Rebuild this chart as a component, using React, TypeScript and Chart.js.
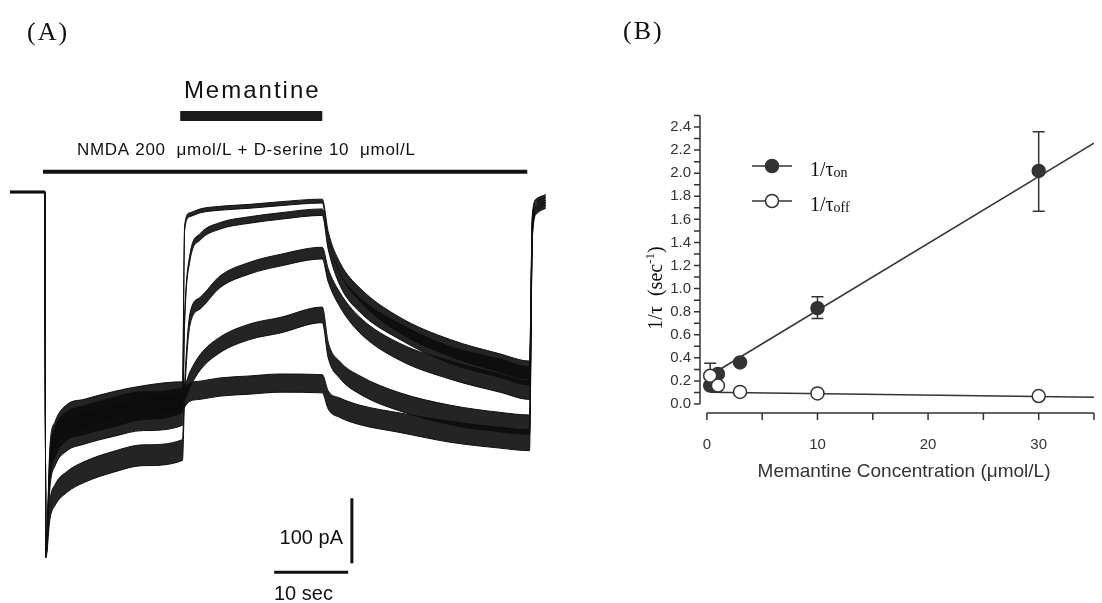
import { useEffect, useRef } from 'react';
import { Chart, registerables } from 'chart.js';

Chart.register(...registerables);

// ---------------- Panel A: whole-cell current traces ----------------
// time points (s) at which the traces were read off the figure
const TIME_S = [0, 4.7, 4.85, 5.4, 6.1, 7.7, 10.0, 14.0, 18.0, 23.3, 23.6, 24.3, 25.7, 28.4, 32.4, 36.5, 42.2, 43.0, 44.6, 47.3, 52.7, 59.5, 66.2, 70.2, 70.6, 71.2, 72.4];

// mean current (pA) and noise half-amplitude (pA) of each trace, labelled by memantine concentration
const TRACE_NAMES = ['30 μmol/L', '10 μmol/L', '3 μmol/L', '1 μmol/L', '0.3 μmol/L'];
const T30_PA = [0, 0, -560, -415, -378, -354, -345, -332, -323, -317, -55, -35, -29, -25, -22, -18, -14, -66, -117, -158, -205, -240, -263, -274, -35, -12, -6];
const T30_NOISE = [1, 1, 2, 14, 16, 16, 16, 16, 16, 16, 4, 3, 3, 3, 3, 3, 3, 5, 8, 10, 12, 13, 14, 14, 2, 2, 2];
const T10_PA = [0, 0, -560, -440, -405, -382, -372, -360, -351, -343, -197, -102, -69, -52, -43, -37, -31, -82, -135, -174, -215, -251, -271, -283, -43, -17, -11];
const T10_NOISE = [1, 1, 2, 14, 16, 16, 16, 16, 16, 16, 6, 5, 5, 5, 5, 5, 5, 6, 9, 11, 12, 13, 14, 14, 2, 2, 2];
const T3_PA = [0, 0, -560, -489, -466, -446, -431, -415, -405, -397, -305, -197, -171, -138, -117, -105, -94, -128, -166, -205, -246, -274, -294, -305, -51, -22, -15];
const T3_NOISE = [1, 1, 2, 14, 16, 16, 16, 16, 16, 16, 10, 9, 9, 9, 9, 9, 9, 10, 11, 12, 13, 14, 14, 14, 2, 2, 2];
const T1_PA = [0, 0, -560, -405, -369, -343, -335, -323, -314, -308, -308, -289, -262, -235, -215, -205, -189, -243, -274, -297, -323, -343, -354, -358, -58, -26, -18];
const T1_NOISE = [1, 1, 2, 14, 16, 16, 16, 16, 16, 16, 12, 12, 12, 12, 12, 12, 12, 12, 13, 14, 14, 15, 15, 15, 2, 2, 2];
const T03_PA = [0, 0, -560, -428, -391, -366, -357, -345, -334, -323, -317, -308, -305, -300, -297, -294, -295, -320, -332, -343, -355, -369, -378, -382, -66, -31, -23];
const T03_NOISE = [1, 1, 2, 14, 16, 16, 16, 16, 16, 16, 14, 14, 14, 14, 14, 14, 14, 14, 15, 15, 15, 16, 16, 16, 2, 2, 2];

// application bars (s) and scale bars
const NMDA_ON_S = 4.46;
const NMDA_OFF_S = 69.9;
const MEM_ON_S = 23.0;
const MEM_OFF_S = 42.2;
const SCALE_PA = 100;
const SCALE_S = 10;

// ---------------- Panel B: 1/tau vs concentration ----------------
const CONC = [0.3, 1, 3, 10, 30];
const ON_RATE = [0.16, 0.26, 0.36, 0.83, 2.02];
const ON_ERR_LO = [null, null, null, 0.74, 1.67];
const ON_ERR_HI = [null, null, null, 0.93, 2.36];
const OFF_RATE = [0.245, 0.16, 0.105, 0.092, 0.069];
const OFF_ERR_LO = [0.14, null, null, null, null];
const OFF_ERR_HI = [0.353, null, null, null, null];
const FIT_X = [0.3, 35];
const ON_FIT = [0.249, 2.26];
const OFF_FIT = [0.102, 0.058];
const Y_MAJOR = [0, 0.2, 0.4, 0.6, 0.8, 1.0, 1.2, 1.4, 1.6, 1.8, 2.0, 2.2, 2.4];
const Y_MINOR = [0.1, 0.3, 0.5, 0.7, 0.9, 1.1, 1.3, 1.5, 1.7, 1.9, 2.1, 2.3, 2.5];
const X_MAJOR = [0, 10, 20, 30];
const X_MINOR = [5, 15, 25, 35];

const INK = '#111';
const GREY = '#333';

function traceDatasets(name: string, mean: number[], noise: number[]) {
  const upper = TIME_S.map((t, i) => ({ x: t, y: mean[i] + noise[i] }));
  const lower = TIME_S.map((t, i) => ({ x: t, y: mean[i] - noise[i] }));
  return [
    {
      label: name + ' upper',
      data: upper,
      borderColor: INK,
      borderWidth: 1,
      backgroundColor: 'rgba(12,12,12,0.9)',
      fill: '+1',
      cubicInterpolationMode: 'monotone',
      pointRadius: 0,
    },
    {
      label: name + ' lower',
      data: lower,
      borderColor: INK,
      borderWidth: 1,
      fill: false,
      cubicInterpolationMode: 'monotone',
      pointRadius: 0,
    },
  ];
}

const panelAText = {
  id: 'panelAText',
  afterDraw(chart: any) {
    const { ctx } = chart;
    const x = chart.scales.x;
    ctx.save();
    ctx.fillStyle = INK;
    ctx.textBaseline = 'middle';
    ctx.textAlign = 'left';
    ctx.font = '26px "Liberation Serif"';
    ctx.letterSpacing = '2px';
    ctx.fillText('(A)', 27, 33);

    ctx.font = '24px "Liberation Sans"';
    ctx.letterSpacing = '2px';
    ctx.textAlign = 'center';
    const memMid = (x.getPixelForValue(MEM_ON_S) + x.getPixelForValue(MEM_OFF_S)) / 2;
    ctx.fillText('Memantine', memMid + 1, 91);

    ctx.letterSpacing = '0.7px';
    ctx.font = '17px "Liberation Sans"';
    ctx.textAlign = 'left';
    ctx.fillText('NMDA 200  μmol/L + D-serine 10  μmol/L', 77, 150);

    ctx.letterSpacing = '0px';
    ctx.font = '20px "Liberation Sans"';
    ctx.textAlign = 'right';
    ctx.fillText(SCALE_PA + ' pA', 343, 538);
    ctx.textAlign = 'left';
    ctx.fillText(SCALE_S + ' sec', 274, 594);
    ctx.restore();
  },
};

const panelBDecor = {
  id: 'panelBDecor',
  beforeDatasetsDraw(chart: any) {
    const { ctx, chartArea } = chart;
    const x = chart.scales.x;
    const y = chart.scales.y;
    ctx.save();
    ctx.strokeStyle = GREY;
    ctx.fillStyle = GREY;
    ctx.lineWidth = 1.5;

    // y axis
    const x0 = chartArea.left;
    ctx.beginPath();
    ctx.moveTo(x0, y.getPixelForValue(0));
    ctx.lineTo(x0, y.getPixelForValue(2.5));
    for (const v of [...Y_MAJOR, ...Y_MINOR]) {
      const py = y.getPixelForValue(v);
      ctx.moveTo(x0 - 6, py);
      ctx.lineTo(x0, py);
    }
    // x axis
    const yb = chartArea.bottom;
    ctx.moveTo(x.getPixelForValue(0), yb);
    ctx.lineTo(x.getPixelForValue(35), yb);
    for (const v of [...X_MAJOR, ...X_MINOR]) {
      const px = x.getPixelForValue(v);
      ctx.moveTo(px, yb);
      ctx.lineTo(px, yb + 7);
    }
    ctx.stroke();

    ctx.font = '15px "Liberation Sans"';
    ctx.textBaseline = 'middle';
    ctx.textAlign = 'right';
    for (const v of Y_MAJOR) ctx.fillText(v.toFixed(1), x0 - 9, y.getPixelForValue(v));
    ctx.textAlign = 'center';
    for (const v of X_MAJOR) ctx.fillText(String(v), x.getPixelForValue(v), yb + 32);
    ctx.font = '19px "Liberation Sans"';
    ctx.fillText('Memantine Concentration (μmol/L)', 344, 472);

    // y title
    ctx.save();
    ctx.translate(95, 288);
    ctx.rotate(-Math.PI / 2);
    ctx.fillStyle = INK;
    ctx.textBaseline = 'alphabetic';
    ctx.textAlign = 'left';
    const parts: [string, string, number][] = [
      ['1/τ  (sec', '20px "Liberation Serif"', 7],
      ['-1', '13px "Liberation Serif"', -1],
      [')', '20px "Liberation Serif"', 7],
    ];
    let total = 0;
    for (const [t, f] of parts) { ctx.font = f; total += ctx.measureText(t).width; }
    let cx = -total / 2;
    for (const [t, f, dy] of parts) { ctx.font = f; ctx.fillText(t, cx, dy); cx += ctx.measureText(t).width; }
    ctx.restore();

    // error bars
    ctx.strokeStyle = GREY;
    ctx.lineWidth = 1.5;
    const drawErr = (lo: (number | null)[], hi: (number | null)[]) => {
      CONC.forEach((c, i) => {
        const l = lo[i];
        const h = hi[i];
        if (l == null || h == null) return;
        const px = x.getPixelForValue(c);
        const pl = y.getPixelForValue(l);
        const ph = y.getPixelForValue(h);
        ctx.beginPath();
        ctx.moveTo(px, pl); ctx.lineTo(px, ph);
        ctx.moveTo(px - 6, pl); ctx.lineTo(px + 6, pl);
        ctx.moveTo(px - 6, ph); ctx.lineTo(px + 6, ph);
        ctx.stroke();
      });
    };
    drawErr(ON_ERR_LO, ON_ERR_HI);
    drawErr(OFF_ERR_LO, OFF_ERR_HI);
    ctx.restore();
  },
  afterDraw(chart: any) {
    const { ctx } = chart;
    ctx.save();
    // panel label
    ctx.fillStyle = INK;
    ctx.textBaseline = 'middle';
    ctx.textAlign = 'left';
    ctx.font = '26px "Liberation Serif"';
    ctx.letterSpacing = '2px';
    ctx.fillText('(B)', 63, 32);
    ctx.letterSpacing = '0px';

    // legend
    const rows: [number, boolean, string][] = [[166, true, 'on'], [201, false, 'off']];
    for (const [ly, filled, sub] of rows) {
      ctx.strokeStyle = GREY;
      ctx.lineWidth = 1.5;
      ctx.beginPath();
      ctx.moveTo(192, ly); ctx.lineTo(232, ly);
      ctx.stroke();
      ctx.beginPath();
      ctx.arc(212, ly, 6.5, 0, Math.PI * 2);
      ctx.fillStyle = filled ? GREY : '#fff';
      ctx.fill();
      ctx.stroke();
      ctx.fillStyle = INK;
      ctx.textBaseline = 'alphabetic';
      ctx.font = '20px "Liberation Serif"';
      ctx.fillText('1/τ', 250, ly + 10);
      const w = ctx.measureText('1/τ').width;
      ctx.font = '14px "Liberation Serif"';
      ctx.fillText(sub, 250 + w, ly + 11);
    }
    ctx.restore();
  },
};

export default function App() {
  const refA = useRef<HTMLCanvasElement>(null);
  const refB = useRef<HTMLCanvasElement>(null);

  useEffect(() => {
    const datasetsA: any[] = [
      ...traceDatasets(TRACE_NAMES[0], T30_PA, T30_NOISE),
      ...traceDatasets(TRACE_NAMES[1], T10_PA, T10_NOISE),
      ...traceDatasets(TRACE_NAMES[2], T3_PA, T3_NOISE),
      ...traceDatasets(TRACE_NAMES[3], T1_PA, T1_NOISE),
      ...traceDatasets(TRACE_NAMES[4], T03_PA, T03_NOISE),
      {
        label: 'NMDA + D-serine',
        data: [{ x: NMDA_ON_S, y: 31 }, { x: NMDA_OFF_S, y: 31 }],
        borderColor: INK, borderWidth: 4, pointRadius: 0, fill: false,
      },
      {
        label: 'Memantine',
        data: [{ x: MEM_ON_S, y: 117 }, { x: MEM_OFF_S, y: 117 }],
        borderColor: '#1a1a1a', borderWidth: 10, pointRadius: 0, fill: false,
      },
      {
        label: 'scale pA',
        data: [{ x: 46.2, y: -471 }, { x: 46.2, y: -471 - SCALE_PA }],
        borderColor: INK, borderWidth: 3, pointRadius: 0, fill: false,
      },
      {
        label: 'scale s',
        data: [{ x: 35.7, y: -585 }, { x: 35.7 + SCALE_S, y: -585 }],
        borderColor: INK, borderWidth: 3, pointRadius: 0, fill: false,
      },
    ];

    const chartA = new Chart(refA.current as HTMLCanvasElement, {
      type: 'line',
      data: { datasets: datasetsA },
      options: {
        animation: false,
        responsive: false,
        devicePixelRatio: 1,
        events: [],
        layout: { padding: { left: 10, right: 9.8, top: 0, bottom: 21 } },
        scales: {
          x: { type: 'linear', min: 0, max: 73, display: false },
          y: { type: 'linear', min: -600, max: 295.4, display: false },
        },
        plugins: { legend: { display: false }, tooltip: { enabled: false } },
      },
      plugins: [panelAText],
    } as any);

    const chartB = new Chart(refB.current as HTMLCanvasElement, {
      type: 'scatter',
      data: {
        datasets: [
          {
            label: '1/τoff',
            data: CONC.map((c, i) => ({ x: c, y: OFF_RATE[i] })),
            pointRadius: 6.5,
            pointBackgroundColor: '#fff',
            pointBorderColor: GREY,
            pointBorderWidth: 1.5,
            order: 0,
          },
          {
            label: '1/τon',
            data: CONC.map((c, i) => ({ x: c, y: ON_RATE[i] })),
            pointRadius: 6.5,
            pointBackgroundColor: GREY,
            pointBorderColor: GREY,
            pointBorderWidth: 1.5,
            order: 1,
          },
          {
            label: 'on fit',
            data: FIT_X.map((c, i) => ({ x: c, y: ON_FIT[i] })),
            showLine: true,
            borderColor: GREY,
            borderWidth: 1.5,
            pointRadius: 0,
            order: 2,
          },
          {
            label: 'off fit',
            data: FIT_X.map((c, i) => ({ x: c, y: OFF_FIT[i] })),
            showLine: true,
            borderColor: GREY,
            borderWidth: 1.5,
            pointRadius: 0,
            order: 3,
          },
        ],
      },
      options: {
        animation: false,
        responsive: false,
        devicePixelRatio: 1,
        events: [],
        layout: { padding: { left: 140, right: 1, top: 115.5, bottom: 190 } },
        scales: {
          x: { type: 'linear', min: -0.62, max: 35, display: false },
          y: { type: 'linear', min: -0.078, max: 2.5, display: false },
        },
        plugins: { legend: { display: false }, tooltip: { enabled: false } },
      },
      plugins: [panelBDecor],
    } as any);

    return () => {
      chartA.destroy();
      chartB.destroy();
    };
  }, []);

  return (
    <div style={{ position: 'fixed', left: 0, top: 0, width: 1102, height: 603, background: '#fff' }}>
      <canvas ref={refA} width={560} height={603} style={{ position: 'absolute', left: 0, top: 0 }} />
      <canvas ref={refB} width={542} height={603} style={{ position: 'absolute', left: 560, top: 0 }} />
    </div>
  );
}
